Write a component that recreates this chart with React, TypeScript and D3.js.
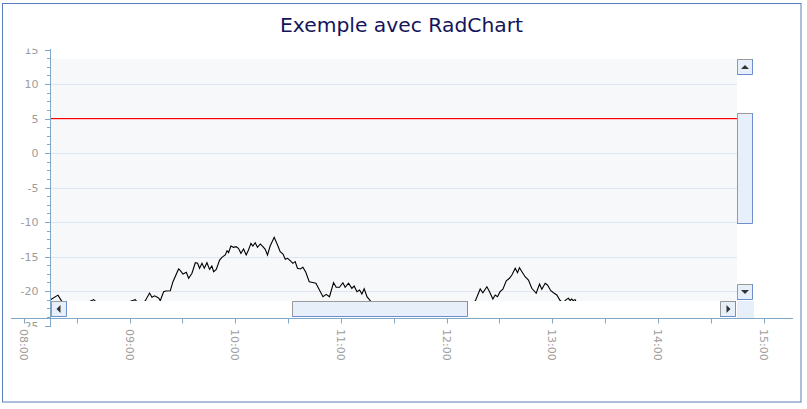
import React from "react";
import * as d3 from "d3";

// ---- data ----
const title = "Exemple avec RadChart";
const yTickValues = [15, 10, 5, 0, -5, -10, -15, -20, -25];
const gridValues = [10, 0, -5, -10, -15, -20];
const markedValue = 5; // red reference line
const hourLabels = ["08:00", "09:00", "10:00", "11:00", "12:00", "13:00", "14:00", "15:00"];
// [minutes after 08:00, value]
const seriesPoints: [number, number][] = [
  [11.5, -21.7], [15.5, -21.2], [19.3, -20.6], [21.2, -21.4], [26.3, -22.8], [32, -22.2], [39.5, -21.25],
  [46.2, -22.8], [54.7, -22.0], [63.2, -21.25], [66, -22.2], [68.9, -21.4], [71.3, -20.3], [72.7, -20.9],
  [74.2, -20.7], [76.4, -21.0], [77.4, -21.4], [79.3, -20.1], [80.6, -20.0], [83.1, -19.96], [84.6, -18.65],
  [87.8, -16.8], [88.7, -17.0], [90.3, -17.54], [92.2, -17.29], [93.5, -18.16], [95.4, -17.43], [97.3, -15.9],
  [98.6, -15.99], [99.7, -16.71], [101.1, -15.99], [102.4, -16.71], [103.9, -15.9], [105.4, -16.86],
  [106.7, -16.38], [107.7, -17.2], [109.2, -16.86], [111.1, -15.51], [112.4, -15.12], [114.3, -14.78],
  [115.3, -14.16], [116.2, -14.45], [117.5, -13.48], [119.0, -13.67], [120.5, -13.58], [121.8, -13.81],
  [123.2, -14.54], [124.7, -13.91], [126.2, -14.78], [127.5, -14.06], [128.9, -13.1], [130.0, -13.48],
  [131.3, -13.01], [132.6, -13.67], [134.2, -13.19], [135.7, -13.58], [137.0, -13.96], [138.3, -14.78],
  [139.8, -13.48], [142.1, -12.22], [144.0, -13.33], [145.5, -14.3], [147.1, -14.64], [148.4, -15.41],
  [149.7, -15.26], [151.2, -15.61], [152.7, -15.99], [154.0, -15.75], [155.3, -16.71], [156.9, -16.81],
  [158.4, -16.57], [160.0, -17.25], [162.0, -18.65], [164.0, -18.77], [165.8, -18.88], [167.8, -19.86],
  [169.8, -20.83], [171.6, -20.48], [173.5, -20.83], [175.8, -18.8], [177.3, -19.46], [179.2, -19.46],
  [181.1, -18.8], [182.4, -19.46], [184.3, -18.88], [186.2, -19.61], [187.5, -19.28], [189.1, -20.1],
  [190.6, -19.86], [191.9, -20.43], [193.2, -19.67], [194.8, -20.83], [196.6, -21.38], [202.3, -22.8],
  [213.7, -23.9], [225.0, -23.0], [236.4, -24.2], [247.7, -22.5], [253.4, -22.0], [256.4, -21.4],
  [259.1, -19.7], [260.6, -20.25], [262.9, -19.38], [264.4, -20.1], [266.3, -21.16], [267.6, -20.58],
  [268.9, -20.83], [270.4, -20.1], [272.0, -19.75], [273.9, -18.51], [275.7, -18.16], [277.1, -17.68],
  [279.0, -16.71], [280.3, -17.35], [281.4, -16.62], [282.8, -17.2], [284.6, -17.93], [286.5, -18.41],
  [288.4, -19.61], [290.9, -20.33], [292.8, -18.99], [294.1, -19.75], [296.0, -18.88], [297.3, -19.13],
  [299.2, -19.96], [300.7, -20.25], [302.6, -20.58], [304.5, -21.38], [306.2, -21.7], [307.9, -21.25],
  [309.2, -21.06], [310.2, -21.38], [311.1, -21.16], [311.9, -21.38], [313.0, -21.25], [315.9, -22.8],
  [327.2, -24.0],
];

const W = 807, H = 409;
const FONT = "'DejaVu Sans', Verdana, sans-serif";
const base = new Date(2000, 0, 1, 8, 0, 0);
const at = (m: number) => new Date(base.getTime() + m * 60000);

const plot = { x0: 51, x1: 737, y0: 59, y1: 301 };

function Button({ x, y, w, h, dir }: { x: number; y: number; w: number; h: number; dir?: string }) {
  const cx = x + w / 2, cy = y + h / 2;
  let arrow = "";
  if (dir === "up") arrow = `M${cx - 4},${cy + 2} L${cx + 4},${cy + 2} L${cx},${cy - 2} Z`;
  if (dir === "down") arrow = `M${cx - 4},${cy - 2} L${cx + 4},${cy - 2} L${cx},${cy + 2} Z`;
  if (dir === "left") arrow = `M${cx + 1.5},${cy - 4} L${cx + 1.5},${cy + 4} L${cx - 2.5},${cy} Z`;
  if (dir === "right") arrow = `M${cx - 1.5},${cy - 4} L${cx - 1.5},${cy + 4} L${cx + 2.5},${cy} Z`;
  return (
    <g>
      <rect x={x} y={y} width={w} height={h} fill="#e7f0fa" />
      <path d={`M${x + 0.5},${y + h} L${x + 0.5},${y + 0.5} L${x + w},${y + 0.5}`} fill="none" stroke="#9a9a9a" />
      <path d={`M${x + w - 0.5},${y} L${x + w - 0.5},${y + h - 0.5} L${x},${y + h - 0.5}`} fill="none" stroke="#6d8fcc" />
      {arrow && <path d={arrow} fill="#333" />}
    </g>
  );
}

export default function App() {
  const x = d3.scaleTime().domain([at(0), at(420)]).range([24, 763.5]);
  const y = d3.scaleLinear().domain([-25, 15]).range([325.5, 49.5]);
  const halfHours = d3.timeMinute.every(30)!.range(at(0), at(421));
  const minorY = d3.range(-25, 15.01, 1.25);
  const line = d3
    .line<[number, number]>()
    .x((d) => x(at(d[0])))
    .y((d) => y(d[1]));
  const axisColor = "#80a8c8";
  const labelColor = "#9c9c9c";
  const redY = Math.floor(y(markedValue));

  return (
    <svg width={W} height={H} style={{ position: "absolute", left: 0, top: 0, background: "#fff" }}>
      <defs>
        <clipPath id="plotClip">
          <rect x={plot.x0} y={plot.y0} width={plot.x1 - plot.x0} height={plot.y1 - plot.y0} />
        </clipPath>
        <clipPath id="yLabClip">
          <rect x={0} y={48.5} width={50} height={278.5} />
        </clipPath>
      </defs>
      <rect x={2.5} y={3.5} width={798.5} height={398.5} fill="#fff" stroke="#5b7cbf" />
      <text x={401.5} y={32} textAnchor="middle" fontFamily={FONT} fontSize={20.3} fill="#14145a">
        {title}
      </text>

      {/* plot area */}
      <rect x={plot.x0} y={plot.y0} width={plot.x1 - plot.x0} height={plot.y1 - plot.y0} fill="#f7f8fa" />
      {gridValues.map((v) => (
        <line key={v} x1={plot.x0} x2={plot.x1} y1={Math.round(y(v)) + 0.5} y2={Math.round(y(v)) + 0.5} stroke="#dde6f1" />
      ))}
      <g clipPath="url(#plotClip)">
        <path d={line(seriesPoints) || ""} fill="none" stroke="#000000" strokeWidth={1.1} />
      </g>
      <rect x={plot.x0} y={redY} width={plot.x1 - plot.x0} height={1.2} fill="rgb(255,0,0)" />

      {/* scrollbars */}
      <rect x={737} y={301} width={17} height={17} fill="#e7f0fa" />
      <Button x={737} y={59} w={16} h={16} dir="up" />
      <Button x={737} y={113} w={16} h={111} />
      <Button x={737} y={284} w={16} h={16} dir="down" />
      <Button x={51} y={301} w={16} h={16} dir="left" />
      <Button x={292} y={301} w={176} h={16} />
      <Button x={720} y={301} w={16} h={16} dir="right" />

      {/* y axis */}
      <line x1={50.5} x2={50.5} y1={49} y2={327} stroke={axisColor} />
      {minorY.map((v) => {
        const major = Math.abs(v % 5) < 1e-6;
        const yy = Math.round(y(v)) + 0.5;
        return <line key={v} x1={major ? 45 : 47} x2={50} y1={yy} y2={yy} stroke={axisColor} />;
      })}
      <g clipPath="url(#yLabClip)">
        {yTickValues.map((v) => (
          <text key={v} x={38.5} y={y(v) + 0.5} dy="0.35em" textAnchor="end" fontFamily={FONT} fontSize={11} fill={labelColor}>
            {v < 0 ? `-${Math.abs(v)}` : `${v}`}
          </text>
        ))}
      </g>

      {/* x axis */}
      <line x1={11} x2={793} y1={318.5} y2={318.5} stroke={axisColor} />
      {halfHours.map((d, i) => {
        const xx = Math.round(x(d)) + 0.5;
        return <line key={i} x1={xx} x2={xx} y1={318.5} y2={323.5} stroke={axisColor} />;
      })}
      {hourLabels.map((lab, i) => {
        const xx = x(at(i * 60));
        return (
          <text
            key={lab}
            transform={`translate(${xx},329) rotate(90)`}
            dy="0.35em"
            fontFamily={FONT}
            fontSize={11}
            fill={labelColor}
          >
            {lab}
          </text>
        );
      })}
    </svg>
  );
}
